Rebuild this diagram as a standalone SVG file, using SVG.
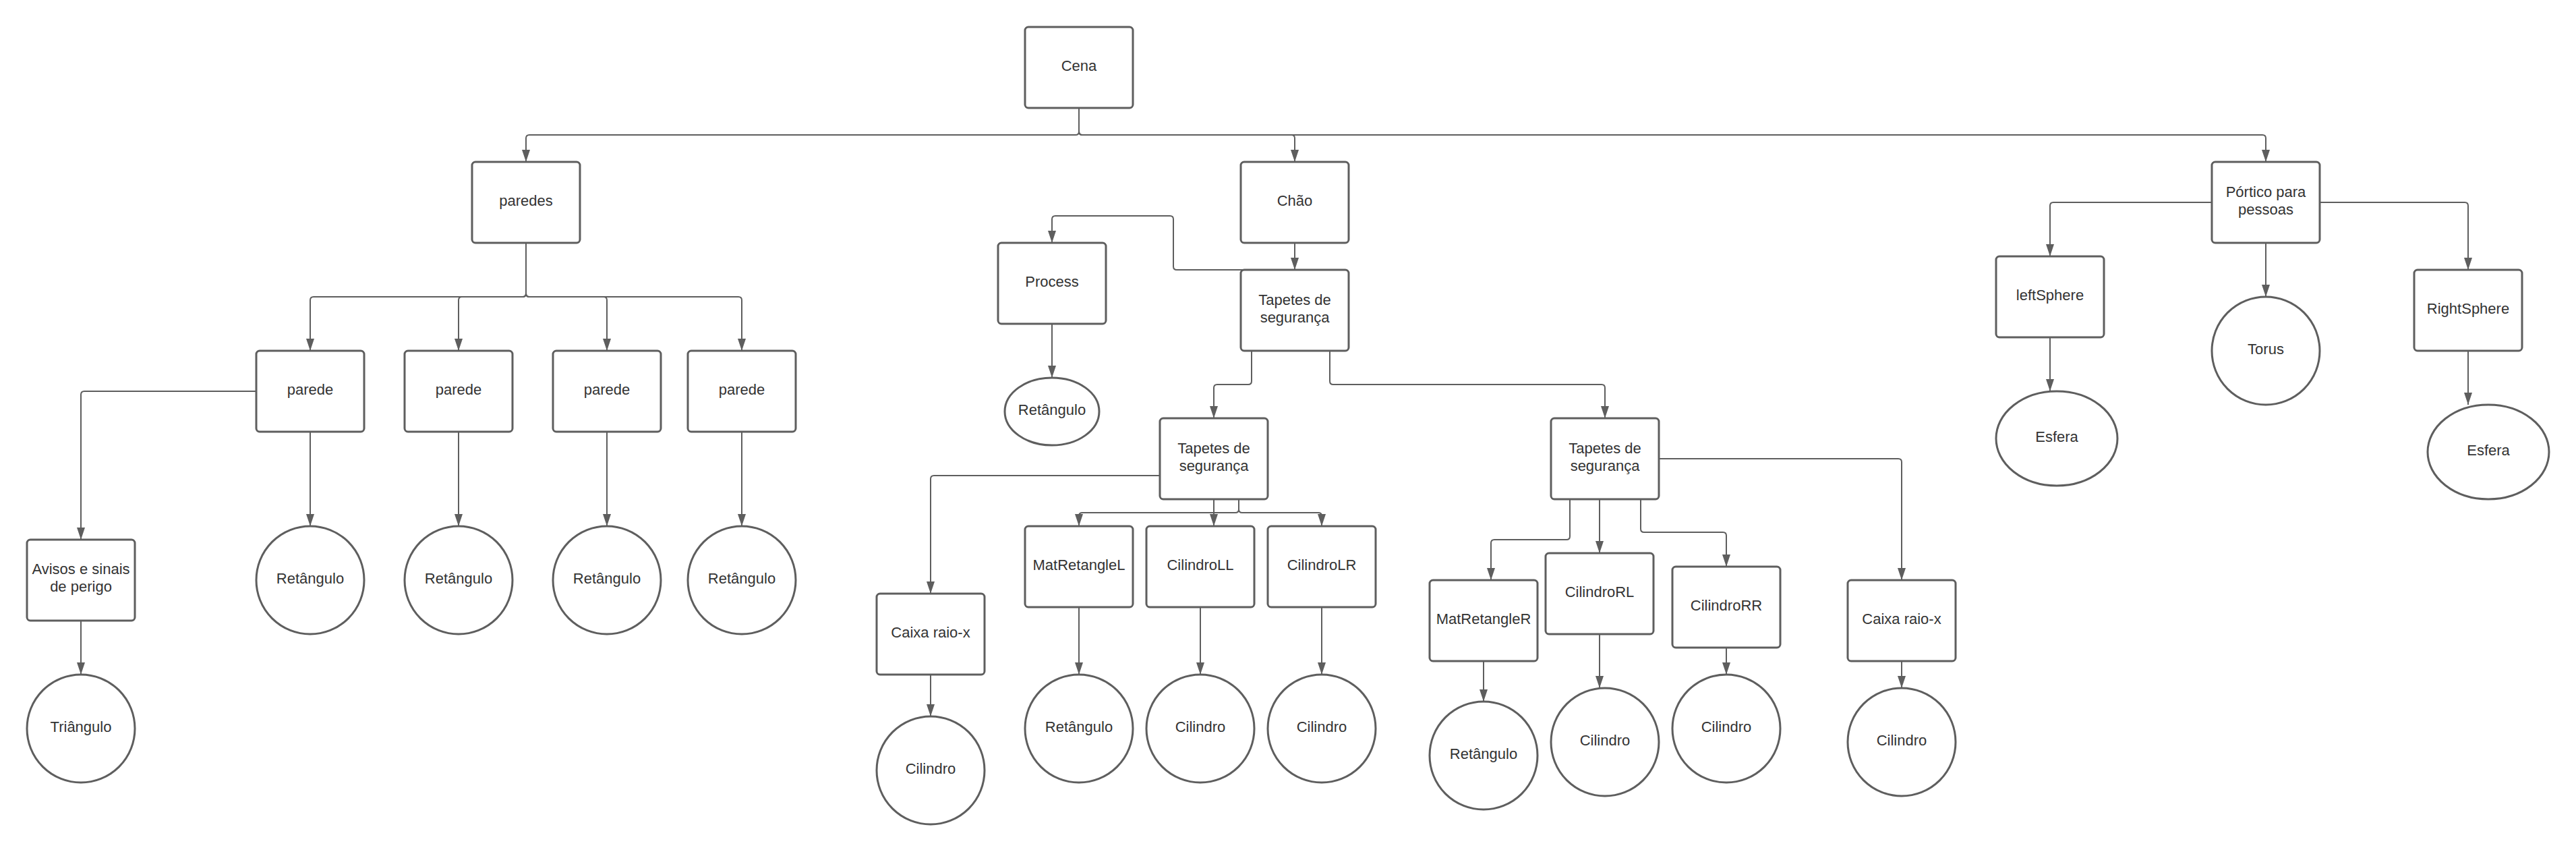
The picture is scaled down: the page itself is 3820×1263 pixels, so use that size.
<svg xmlns="http://www.w3.org/2000/svg" width="3820" height="1263" viewBox="0 0 3820 1263">
<style>
.n rect{fill:#fff;stroke:#5e5e5e;stroke-width:3}
.n ellipse{fill:#fff;stroke:#5e5e5e;stroke-width:3}
.n text{font-family:"Liberation Sans",Arial,sans-serif;font-size:22px;fill:#333;text-anchor:middle}
#edges path{fill:none;stroke:#5e5e5e;stroke-width:2;marker-end:url(#ah)}
</style>
<defs>
<marker id="ah" markerUnits="userSpaceOnUse" markerWidth="18" markerHeight="12" refX="18" refY="6" orient="auto">
<path d="M0,0 L18,6 L0,12 z" fill="#5e5e5e"/>
</marker>
</defs>
<rect width="3820" height="1263" fill="#fff"/>
<g id="edges">
<path d="M1600,160 V195 Q1600,200 1595,200 H785 Q780,200 780,205 V240"/>
<path d="M1600,160 V195 Q1600,200 1605,200 H1915 Q1920,200 1920,205 V240"/>
<path d="M1600,160 V195 Q1600,200 1605,200 H3355 Q3360,200 3360,205 V240"/>
<path d="M780,360 V435 Q780,440 775,440 H465 Q460,440 460,445 V520"/>
<path d="M780,360 V435 Q780,440 775,440 H685 Q680,440 680,445 V520"/>
<path d="M780,360 V435 Q780,440 785,440 H895 Q900,440 900,445 V520"/>
<path d="M780,360 V435 Q780,440 785,440 H1095 Q1100,440 1100,445 V520"/>
<path d="M380,580 H125 Q120,580 120,585 V800"/>
<path d="M120,920 V1000"/>
<path d="M460,640 V780"/>
<path d="M680,640 V780"/>
<path d="M900,640 V780"/>
<path d="M1100,640 V780"/>
<path d="M1920,360 V400"/>
<path d="M1920,400 H1745 Q1740,400 1740,395 V325 Q1740,320 1735,320 H1565 Q1560,320 1560,325 V360"/>
<path d="M1560,480 V560"/>
<path d="M1856,520 V565 Q1856,570 1851,570 H1805 Q1800,570 1800,575 V620"/>
<path d="M1972,520 V565 Q1972,570 1977,570 H2375 Q2380,570 2380,575 V620"/>
<path d="M1720,705 H1385 Q1380,705 1380,710 V880"/>
<path d="M1380,1000 V1062"/>
<path d="M1837,740 V755 Q1837,760 1832,760 H1605 Q1600,760 1600,765 V780"/>
<path d="M1837,740 V755 Q1837,760 1842,760 H1955 Q1960,760 1960,765 V780"/>
<path d="M1800,740 V780"/>
<path d="M1600,900 V1000"/>
<path d="M1780,900 V1000"/>
<path d="M1960,900 V1000"/>
<path d="M2328,740 V795 Q2328,800 2323,800 H2216 Q2211,800 2211,805 V860"/>
<path d="M2372,740 V820"/>
<path d="M2433,740 V784 Q2433,789 2438,789 H2555 Q2560,789 2560,794 V840"/>
<path d="M2460,680 H2815 Q2820,680 2820,685 V860"/>
<path d="M2200,980 V1040"/>
<path d="M2372,940 V1020"/>
<path d="M2560,960 V1000"/>
<path d="M2820,980 V1020"/>
<path d="M3280,300 H3045 Q3040,300 3040,305 V380"/>
<path d="M3360,360 V440"/>
<path d="M3440,300 H3655 Q3660,300 3660,305 V400"/>
<path d="M3040,500 V580"/>
<path d="M3660,520 V600"/>
</g>
<g id="cena" class="n"><rect x="1520" y="40" width="160" height="120" rx="5"/><text x="1600" y="105">Cena</text></g>
<g id="paredes" class="n"><rect x="700" y="240" width="160" height="120" rx="5"/><text x="780" y="305">paredes</text></g>
<g id="parede1" class="n"><rect x="380" y="520" width="160" height="120" rx="5"/><text x="460" y="585">parede</text></g>
<g id="parede2" class="n"><rect x="600" y="520" width="160" height="120" rx="5"/><text x="680" y="585">parede</text></g>
<g id="parede3" class="n"><rect x="820" y="520" width="160" height="120" rx="5"/><text x="900" y="585">parede</text></g>
<g id="parede4" class="n"><rect x="1020" y="520" width="160" height="120" rx="5"/><text x="1100" y="585">parede</text></g>
<g id="avisos" class="n"><rect x="40" y="800" width="160" height="120" rx="5"/><text x="120" y="851">Avisos e sinais</text><text x="120" y="877">de perigo</text></g>
<g id="triangulo" class="n"><ellipse cx="120" cy="1080" rx="80" ry="80"/><text x="120" y="1085">Triângulo</text></g>
<g id="ret1" class="n"><ellipse cx="460" cy="860" rx="80" ry="80"/><text x="460" y="865">Retângulo</text></g>
<g id="ret2" class="n"><ellipse cx="680" cy="860" rx="80" ry="80"/><text x="680" y="865">Retângulo</text></g>
<g id="ret3" class="n"><ellipse cx="900" cy="860" rx="80" ry="80"/><text x="900" y="865">Retângulo</text></g>
<g id="ret4" class="n"><ellipse cx="1100" cy="860" rx="80" ry="80"/><text x="1100" y="865">Retângulo</text></g>
<g id="chao" class="n"><rect x="1840" y="240" width="160" height="120" rx="5"/><text x="1920" y="305">Chão</text></g>
<g id="process" class="n"><rect x="1480" y="360" width="160" height="120" rx="5"/><text x="1560" y="425">Process</text></g>
<g id="retProcess" class="n"><ellipse cx="1560" cy="610" rx="70" ry="50"/><text x="1560" y="615">Retângulo</text></g>
<g id="tapetes" class="n"><rect x="1840" y="400" width="160" height="120" rx="5"/><text x="1920" y="452">Tapetes de</text><text x="1920" y="478">segurança</text></g>
<g id="tapetesL" class="n"><rect x="1720" y="620" width="160" height="120" rx="5"/><text x="1800" y="672">Tapetes de</text><text x="1800" y="698">segurança</text></g>
<g id="tapetesR" class="n"><rect x="2300" y="620" width="160" height="120" rx="5"/><text x="2380" y="672">Tapetes de</text><text x="2380" y="698">segurança</text></g>
<g id="caixaL" class="n"><rect x="1300" y="880" width="160" height="120" rx="5"/><text x="1380" y="945">Caixa raio-x</text></g>
<g id="cilCaixaL" class="n"><ellipse cx="1380" cy="1142" rx="80" ry="80"/><text x="1380" y="1147">Cilindro</text></g>
<g id="matL" class="n"><rect x="1520" y="780" width="160" height="120" rx="5"/><text x="1600" y="845">MatRetangleL</text></g>
<g id="cilLL" class="n"><rect x="1700" y="780" width="160" height="120" rx="5"/><text x="1780" y="845">CilindroLL</text></g>
<g id="cilLR" class="n"><rect x="1880" y="780" width="160" height="120" rx="5"/><text x="1960" y="845">CilindroLR</text></g>
<g id="retMatL" class="n"><ellipse cx="1600" cy="1080" rx="80" ry="80"/><text x="1600" y="1085">Retângulo</text></g>
<g id="cilLLc" class="n"><ellipse cx="1780" cy="1080" rx="80" ry="80"/><text x="1780" y="1085">Cilindro</text></g>
<g id="cilLRc" class="n"><ellipse cx="1960" cy="1080" rx="80" ry="80"/><text x="1960" y="1085">Cilindro</text></g>
<g id="matR" class="n"><rect x="2120" y="860" width="160" height="120" rx="5"/><text x="2200" y="925">MatRetangleR</text></g>
<g id="cilRL" class="n"><rect x="2292" y="820" width="160" height="120" rx="5"/><text x="2372" y="885">CilindroRL</text></g>
<g id="cilRR" class="n"><rect x="2480" y="840" width="160" height="120" rx="5"/><text x="2560" y="905">CilindroRR</text></g>
<g id="retMatR" class="n"><ellipse cx="2200" cy="1120" rx="80" ry="80"/><text x="2200" y="1125">Retângulo</text></g>
<g id="cilRLc" class="n"><ellipse cx="2380" cy="1100" rx="80" ry="80"/><text x="2380" y="1105">Cilindro</text></g>
<g id="cilRRc" class="n"><ellipse cx="2560" cy="1080" rx="80" ry="80"/><text x="2560" y="1085">Cilindro</text></g>
<g id="caixaR" class="n"><rect x="2740" y="860" width="160" height="120" rx="5"/><text x="2820" y="925">Caixa raio-x</text></g>
<g id="cilCaixaR" class="n"><ellipse cx="2820" cy="1100" rx="80" ry="80"/><text x="2820" y="1105">Cilindro</text></g>
<g id="portico" class="n"><rect x="3280" y="240" width="160" height="120" rx="5"/><text x="3360" y="292">Pórtico para</text><text x="3360" y="318">pessoas</text></g>
<g id="leftSphere" class="n"><rect x="2960" y="380" width="160" height="120" rx="5"/><text x="3040" y="445">leftSphere</text></g>
<g id="torus" class="n"><ellipse cx="3360" cy="520" rx="80" ry="80"/><text x="3360" y="525">Torus</text></g>
<g id="rightSphere" class="n"><rect x="3580" y="400" width="160" height="120" rx="5"/><text x="3660" y="465">RightSphere</text></g>
<g id="esferaL" class="n"><ellipse cx="3050" cy="650" rx="90" ry="70"/><text x="3050" y="655">Esfera</text></g>
<g id="esferaR" class="n"><ellipse cx="3690" cy="670" rx="90" ry="70"/><text x="3690" y="675">Esfera</text></g>
</svg>
